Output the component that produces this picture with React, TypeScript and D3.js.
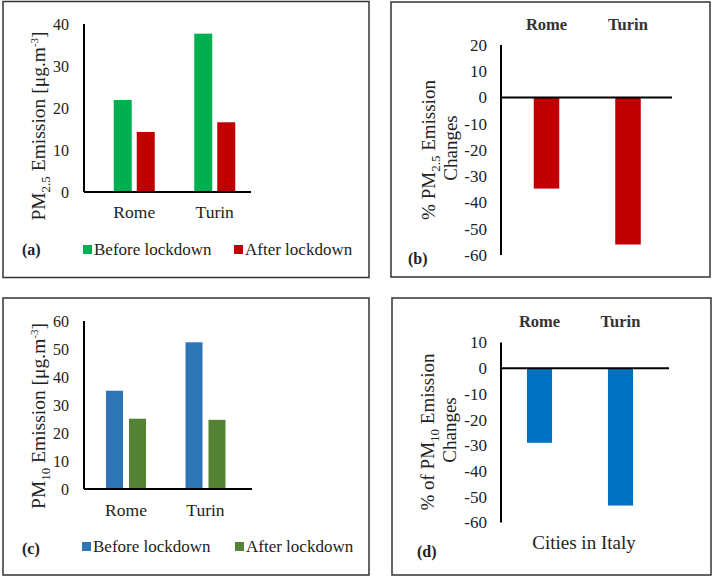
import React from "react";
import * as d3 from "d3";

const cities = ["Rome", "Turin"];
const series = ["Before lockdown", "After lockdown"];
const pm25Before = [21.9, 37.7];
const pm25After = [14.3, 16.6];
const pm25Change = [-34.7, -56.0];
const pm10Before = [35.1, 52.4];
const pm10After = [25.1, 24.7];
const pm10Change = [-29.0, -53.4];
const pm25Ticks = [0, 10, 20, 30, 40];
const pm25ChangeTicks = [-60, -50, -40, -30, -20, -10, 0, 10, 20];
const pm10Ticks = [0, 10, 20, 30, 40, 50, 60];
const pm10ChangeTicks = [-60, -50, -40, -30, -20, -10, 0, 10];

const FONT = "'Liberation Serif', 'Times New Roman', serif";
const TXT = "#222";

type GroupedProps = {
  before: number[];
  after: number[];
  ticks: number[];
  yDomain: [number, number];
  yRange: [number, number];
  axisX: number;
  axisEnd: number;
  bandRange: [number, number];
  pairWidth: number;
  barPad: number;
  colors: [string, string];
  labelY: number;
};

function Grouped(p: GroupedProps) {
  const y = d3.scaleLinear().domain(p.yDomain).range(p.yRange);
  const x0 = d3.scaleBand<string>().domain(cities).range(p.bandRange);
  const x1 = d3.scaleBand<string>().domain(series).range([0, p.pairWidth]).paddingInner(p.barPad);
  const vals = [p.before, p.after];
  return (
    <g>
      {cities.map((c, i) => {
        const left = (x0(c) as number) + x0.bandwidth() / 2 - p.pairWidth / 2;
        return (
          <g key={c}>
            {series.map((s, j) => (
              <rect
                key={s}
                x={left + (x1(s) as number)}
                y={y(vals[j][i])}
                width={x1.bandwidth()}
                height={y(0) - y(vals[j][i])}
                fill={p.colors[j]}
              />
            ))}
            <text
              x={(x0(c) as number) + x0.bandwidth() / 2}
              y={p.labelY}
              textAnchor="middle"
              fontSize={17.5}
              fill={TXT}
            >
              {c}
            </text>
          </g>
        );
      })}
      {p.ticks.map((t) => (
        <text key={t} x={p.axisX - 15} y={y(t)} dy="0.35em" textAnchor="end" fontSize={16} fill={TXT}>
          {t}
        </text>
      ))}
      <line x1={p.axisX} x2={p.axisX} y1={y(p.yDomain[1])} y2={y(0)} stroke="#000" strokeWidth={2} />
      <line x1={p.axisX} x2={p.axisEnd} y1={y(0)} y2={y(0)} stroke="#000" strokeWidth={2} />
    </g>
  );
}

type ChangeProps = {
  values: number[];
  ticks: number[];
  yDomain: [number, number];
  yRange: [number, number];
  axisX: number;
  axisEnd: number;
  bandRange: [number, number];
  padding: number;
  color: string;
  labelY: number;
};

function Change(p: ChangeProps) {
  const y = d3.scaleLinear().domain(p.yDomain).range(p.yRange);
  const x = d3
    .scaleBand<string>()
    .domain(cities)
    .range(p.bandRange)
    .paddingInner(p.padding)
    .paddingOuter(p.padding / 2);
  return (
    <g>
      {cities.map((c, i) => (
        <g key={c}>
          <rect
            x={x(c) as number}
            y={y(0)}
            width={x.bandwidth()}
            height={y(p.values[i]) - y(0)}
            fill={p.color}
          />
          <text
            x={(x(c) as number) + x.bandwidth() / 2}
            y={p.labelY}
            textAnchor="middle"
            fontSize={16.5}
            fontWeight="bold"
            fill="#333"
          >
            {c}
          </text>
        </g>
      ))}
      {p.ticks.map((t) => (
        <text key={t} x={p.axisX - 14} y={y(t)} dy="0.35em" textAnchor="end" fontSize={17} fill={TXT}>
          {t}
        </text>
      ))}
      <line x1={p.axisX} x2={p.axisX} y1={y(p.yDomain[1])} y2={y(p.yDomain[0])} stroke="#000" strokeWidth={2} />
      <line x1={p.axisX} x2={p.axisEnd} y1={y(0)} y2={y(0)} stroke="#000" strokeWidth={2} />
    </g>
  );
}

function Legend({ x1, x2, y, colors }: { x1: number; x2: number; y: number; colors: [string, string] }) {
  const xs = [x1, x2];
  return (
    <g>
      {series.map((s, j) => (
        <g key={s}>
          <rect x={xs[j]} y={y - 5} width={9} height={9} fill={colors[j]} />
          <text x={xs[j] + 11} y={y + 5} fontSize={17} fill={TXT}>
            {s}
          </text>
        </g>
      ))}
    </g>
  );
}

export default function App() {
  const green = "#00B050";
  const red = "#C00000";
  const blue = "#2E75B6";
  const olive = "#548235";
  const blue2 = "#0070C0";
  return (
    <svg
      width={714}
      height={577}
      style={{ position: "absolute", left: 0, top: 0, background: "#fff" }}
      fontFamily={FONT}
    >
      <rect x={0} y={0} width={714} height={577} fill="#fff" />
      {/* panel borders */}
      <rect x={3} y={1.5} width={366} height={276} fill="none" stroke="#333" strokeWidth={1.5} />
      <rect x={391} y={2} width={319} height={275} fill="none" stroke="#333" strokeWidth={1.5} />
      <rect x={3} y={298} width={366} height={277} fill="none" stroke="#333" strokeWidth={1.5} />
      <rect x={392} y={298} width={319} height={277} fill="none" stroke="#333" strokeWidth={1.5} />

      {/* (a) */}
      <Grouped
        before={pm25Before}
        after={pm25After}
        ticks={pm25Ticks}
        yDomain={[0, 40]}
        yRange={[192, 24]}
        axisX={84}
        axisEnd={251}
        bandRange={[94, 255]}
        pairWidth={41}
        barPad={0.217}
        colors={[green, red]}
        labelY={218}
      />
      <text transform="translate(38,126) rotate(-90)" textAnchor="middle" dy="0.35em" fontSize={19.5} fill={TXT}>
        PM<tspan fontSize={13} dy={5}>2.5</tspan>
        <tspan dy={-5}> Emission [μg.m</tspan>
        <tspan fontSize={11} dy={-7}>-3</tspan>
        <tspan dy={7}>]</tspan>
      </text>
      <Legend x1={83} x2={234} y={250} colors={[green, red]} />
      <text x={22} y={255} fontSize={16} fontWeight="bold" fill={TXT}>(a)</text>

      {/* (b) */}
      <Change
        values={pm25Change}
        ticks={pm25ChangeTicks}
        yDomain={[-60, 20]}
        yRange={[255, 45]}
        axisX={501}
        axisEnd={672}
        bandRange={[505.75, 668.75]}
        padding={0.687}
        color={red}
        labelY={30}
      />
      <text transform="translate(428,150) rotate(-90)" textAnchor="middle" dy="0.35em" fontSize={19} fill={TXT}>
        % PM<tspan fontSize={13} dy={5}>2.5</tspan>
        <tspan dy={-5}> Emission</tspan>
      </text>
      <text transform="translate(450,148) rotate(-90)" textAnchor="middle" dy="0.35em" fontSize={19} fill={TXT}>
        Changes
      </text>
      <text x={408} y={264} fontSize={16} fontWeight="bold" fill={TXT}>(b)</text>

      {/* (c) */}
      <Grouped
        before={pm10Before}
        after={pm10After}
        ticks={pm10Ticks}
        yDomain={[0, 60]}
        yRange={[489, 321]}
        axisX={84}
        axisEnd={252}
        bandRange={[86.25, 245.25]}
        pairWidth={40}
        barPad={0.26}
        colors={[blue, olive]}
        labelY={516}
      />
      <text transform="translate(38,416) rotate(-90)" textAnchor="middle" dy="0.35em" fontSize={19.5} fill={TXT}>
        PM<tspan fontSize={13} dy={5}>10</tspan>
        <tspan dy={-5}> Emission [μg.m</tspan>
        <tspan fontSize={11} dy={-7}>-3</tspan>
        <tspan dy={7}>]</tspan>
      </text>
      <Legend x1={82} x2={235} y={547} colors={[blue, olive]} />
      <text x={22} y={554} fontSize={16} fontWeight="bold" fill={TXT}>(c)</text>

      {/* (d) */}
      <Change
        values={pm10Change}
        ticks={pm10ChangeTicks}
        yDomain={[-60, 10]}
        yRange={[522.5, 342.5]}
        axisX={501}
        axisEnd={669}
        bandRange={[499, 661]}
        padding={0.69}
        color={blue2}
        labelY={327}
      />
      <text transform="translate(427,432) rotate(-90)" textAnchor="middle" dy="0.35em" fontSize={19} fill={TXT}>
        % of PM<tspan fontSize={13} dy={5}>10</tspan>
        <tspan dy={-5}> Emission</tspan>
      </text>
      <text transform="translate(449,430) rotate(-90)" textAnchor="middle" dy="0.35em" fontSize={19} fill={TXT}>
        Changes
      </text>
      <text x={584} y={549} textAnchor="middle" fontSize={19} fill={TXT}>Cities in Italy</text>
      <text x={417} y={557} fontSize={16} fontWeight="bold" fill={TXT}>(d)</text>
    </svg>
  );
}
